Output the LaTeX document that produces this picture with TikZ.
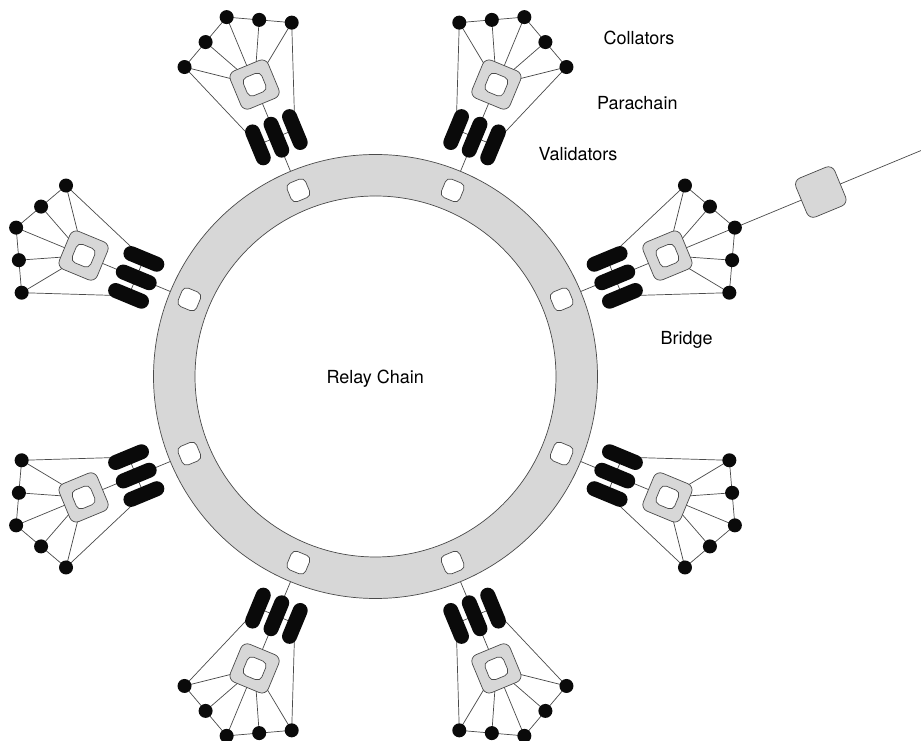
\documentclass[tikz,border=0pt]{standalone}
\usepackage{fontspec}
\setmainfont{TeX Gyre Heros}
\usetikzlibrary{backgrounds}
\pgfdeclarelayer{bg}
\pgfdeclarelayer{lines}
\pgfsetlayers{bg,lines,main}
\definecolor{ringgray}{HTML}{D7D7D7}
\definecolor{edgegray}{HTML}{4A4A4A}
\definecolor{ink}{HTML}{0A0A0A}
\tikzset{
 slot/.style={rectangle, draw=edgegray, fill=white, line width=0.7pt, minimum size=20pt, inner sep=0pt, rounded corners=5pt},
 validator/.style={rectangle, fill=ink, minimum width=43pt, minimum height=15pt, inner sep=0pt, rounded corners=7.5pt},
 chainbox/.style={rectangle, draw=edgegray, fill=ringgray, line width=0.7pt, minimum size=41pt, inner sep=0pt, rounded corners=7pt},
 innerbox/.style={slot},
 collator/.style={circle, fill=ink, minimum size=14pt, inner sep=0pt},
 link/.style={draw=edgegray, line width=0.7pt},
 caption/.style={font=\fontsize{18}{20}\selectfont, text=black, anchor=base, inner sep=0pt},
}
\begin{document}
\begin{tikzpicture}[x=1pt,y=1pt]
\begin{pgfonlayer}{bg}
\fill[white] (0,0) rectangle (921,741);
\end{pgfonlayer}
\useasboundingbox (0,0) rectangle (921,741);
\coordinate (c) at (375.5,364.5);
\draw[edgegray, line width=0.7pt, fill=ringgray, even odd rule] (c) circle[radius=222] (c) circle[radius=180.5];
\foreach \i/\a in {1/22.5,2/67.5,3/112.5,4/157.5,5/202.5,6/247.5,7/292.5,8/337.5} {
 \begin{scope}[shift={(c)}, rotate=\a, transform shape]
  \node[slot] (s\i) at (201.5,0) {};
  \node[validator] (va\i) at (259,-20) {};
  \node[validator] (vb\i) at (259,0) {};
  \node[validator] (vc\i) at (259,20) {};
  \node[chainbox] (b\i) at (316,0) {};
  \node[innerbox] (bi\i) at (316,0) {};
  \node[collator] (k\i-1) at (359,-58) {};
  \node[collator] (k\i-2) at (374,-29) {};
  \node[collator] (k\i-3) at (389,0) {};
  \node[collator] (k\i-4) at (374,29) {};
  \node[collator] (k\i-5) at (359,58) {};
 \end{scope}
 \begin{pgfonlayer}{lines}
  \draw[link] (s\i.center) -- (vb\i.center) -- (bi\i.center);
  \draw[link] (va\i.center) -- (vc\i.center);
  \draw[link] (va\i.center) -- (k\i-1.center) -- (k\i-2.center) -- (k\i-3.center) -- (k\i-4.center) -- (k\i-5.center) -- (vc\i.center);
  \foreach \j in {1,...,5} { \draw[link] (k\i-\j.center) -- (bi\i.center); }
 \end{pgfonlayer}
}
\begin{scope}[shift={(c)}, rotate=22.5, transform shape]
 \node[chainbox, minimum size=42pt] (br) at (482,0) {};
 \coordinate (bend) at (592,0);
\end{scope}
\begin{pgfonlayer}{lines}
 \draw[link] (k1-3.center) -- (br.center) -- (bend);
\end{pgfonlayer}
\node[caption] (tc) at (639,696) {Collators};
\node[caption] (tp) at (637.3,631.7) {Parachain};
\node[caption] (tv) at (578,580.4) {Validators};
\node[caption] (tb) at (686.7,396) {Bridge};
\node[caption] (tr) at (375.2,357.7) {Relay Chain};
\end{tikzpicture}
\end{document}
